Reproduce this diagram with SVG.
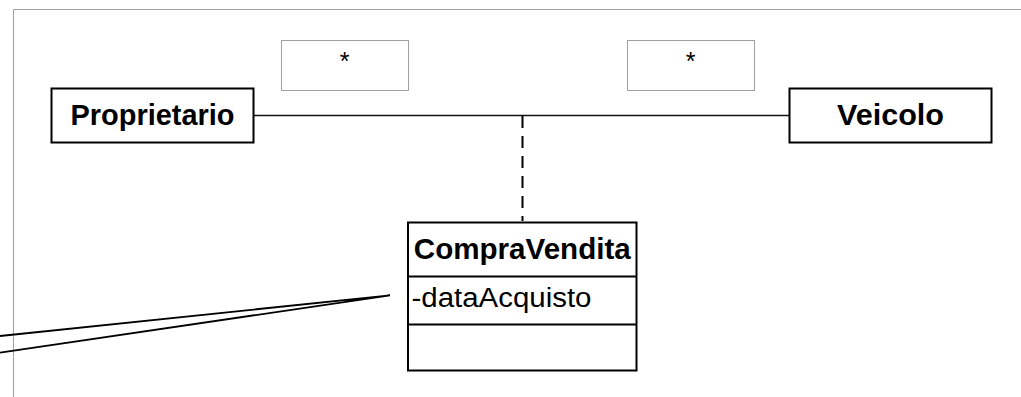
<svg xmlns="http://www.w3.org/2000/svg" width="1021" height="397" viewBox="0 0 1021 397">
<defs>
<style>
.cls{fill:#fff;stroke:#000;stroke-width:2}
.mult{fill:#fff;stroke:#a0a0a0;stroke-width:1}
.name{font-family:"Liberation Sans",Arial,sans-serif;font-weight:bold;font-size:29.5px;fill:#000}
.attr{font-family:"Liberation Sans",Arial,sans-serif;font-size:27px;fill:#000}
.star{font-family:"Liberation Sans",Arial,sans-serif;font-size:25px;fill:#000;text-anchor:middle}
.frame{stroke:#a0a0a0;stroke-width:1;fill:none}
.assoc{stroke:#111;stroke-width:1.5;fill:none}
.dash{stroke:#000;stroke-width:2;stroke-dasharray:12 8;fill:none}
.note{stroke:#000;stroke-width:1.8;fill:none}
</style>
</defs>
<rect width="1021" height="397" fill="#fff"/>
<g id="frame">
<path class="frame" d="M13.5,397 V9.5 H1021"/>
</g>
<g id="connectors">
<line class="assoc" x1="254" y1="115.5" x2="789" y2="115.5"/>
<line class="dash" x1="522.5" y1="116" x2="522.5" y2="221"/>
<polyline class="note" points="0,336 390,295.3 0,352.7"/>
</g>
<g id="mult-proprietario">
<rect class="mult" x="281.5" y="40.5" width="127" height="50"/>
<text class="star" x="344.5" y="70">*</text>
</g>
<g id="mult-veicolo">
<rect class="mult" x="627.5" y="40.5" width="127" height="50"/>
<text class="star" x="690.5" y="70">*</text>
</g>
<g id="proprietario">
<rect class="cls" x="51.5" y="88.5" width="202" height="54"/>
<text class="name" x="152.5" y="124.5" text-anchor="middle" textLength="164" lengthAdjust="spacingAndGlyphs">Proprietario</text>
</g>
<g id="veicolo">
<rect class="cls" x="789.5" y="88.5" width="202" height="54"/>
<text class="name" x="890.5" y="124.5" text-anchor="middle" textLength="107" lengthAdjust="spacingAndGlyphs">Veicolo</text>
</g>
<g id="compravendita">
<rect class="cls" x="408" y="222.5" width="228.5" height="148"/>
<line class="cls" x1="408" y1="276.5" x2="636.5" y2="276.5"/>
<line class="cls" x1="408" y1="324.5" x2="636.5" y2="324.5"/>
<text class="name" x="522.3" y="258.5" text-anchor="middle" textLength="217" lengthAdjust="spacingAndGlyphs">CompraVendita</text>
<text class="attr" x="411.5" y="307" textLength="180" lengthAdjust="spacingAndGlyphs">-dataAcquisto</text>
</g>
</svg>
